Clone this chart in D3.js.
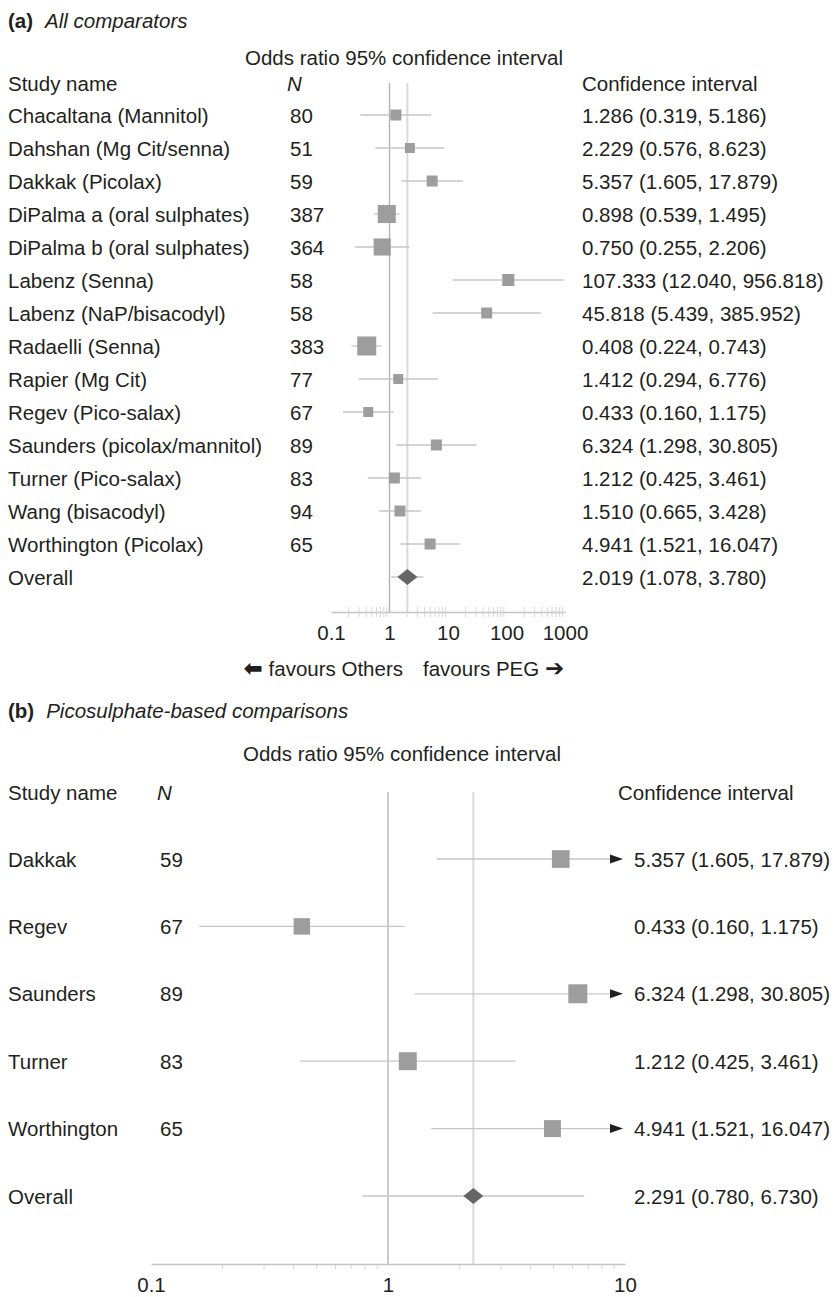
<!DOCTYPE html>
<html>
<head>
<meta charset="utf-8">
<script src="https://cdn.jsdelivr.net/npm/d3@7"></script>
<style>
  body { margin: 0; background: #fff; }
  svg text { font-family: "Liberation Sans", Arial, Helvetica, sans-serif; fill: #231f20; }
</style>
</head>
<body>
<script>
// panel (a) data
const studiesA = ["Chacaltana (Mannitol)", "Dahshan (Mg Cit/senna)", "Dakkak (Picolax)",
  "DiPalma a (oral sulphates)", "DiPalma b (oral sulphates)", "Labenz (Senna)",
  "Labenz (NaP/bisacodyl)", "Radaelli (Senna)", "Rapier (Mg Cit)", "Regev (Pico-salax)",
  "Saunders (picolax/mannitol)", "Turner (Pico-salax)", "Wang (bisacodyl)", "Worthington (Picolax)"];
const nA = [80, 51, 59, 387, 364, 58, 58, 383, 77, 67, 89, 83, 94, 65];
const orA = [1.286, 2.229, 5.357, 0.898, 0.750, 107.333, 45.818, 0.408, 1.412, 0.433, 6.324, 1.212, 1.510, 4.941];
const loA = [0.319, 0.576, 1.605, 0.539, 0.255, 12.040, 5.439, 0.224, 0.294, 0.160, 1.298, 0.425, 0.665, 1.521];
const hiA = [5.186, 8.623, 17.879, 1.495, 2.206, 956.818, 385.952, 0.743, 6.776, 1.175, 30.805, 3.461, 3.428, 16.047];
const weightA = [5.3, 4.4, 5.3, 14.3, 12.8, 6.4, 5.3, 15.9, 4.4, 4.4, 5.3, 5.3, 5.3, 5.3];
const overallA = [2.019, 1.078, 3.780];
const ticksA = [0.1, 1, 10, 100, 1000];

// panel (b) data
const studiesB = ["Dakkak", "Regev", "Saunders", "Turner", "Worthington"];
const nB = [59, 67, 89, 83, 65];
const orB = [5.357, 0.433, 6.324, 1.212, 4.941];
const loB = [1.605, 0.160, 1.298, 0.425, 1.521];
const hiB = [17.879, 1.175, 30.805, 3.461, 16.047];
const weightB = [20.1, 17.4, 23.2, 20.8, 18.5];
const overallB = [2.291, 0.780, 6.730];
const ticksB = [0.1, 1, 10];

const W = 835, H = 1297, FS = 20.5;
const f3 = d3.format(".3f");

const svg = d3.select("body").append("svg")
  .attr("width", W).attr("height", H)
  .style("font-size", FS + "px");

function ciText(or, lo, hi) {
  return f3(or) + " (" + f3(lo) + ", " + f3(hi) + ")";
}

function panel(cfg) {
  const g = svg.append("g");
  const x = d3.scaleLog().domain(cfg.domain).range(cfg.xRange);
  const names = cfg.studies.concat(["Overall"]);
  const y = d3.scalePoint().domain(names).range(cfg.yRange);
  const side = d3.scaleSqrt().domain([0, cfg.wMax]).range([0, cfg.sMax]);
  const rows = cfg.studies.map((s, i) => ({name: s, n: cfg.n[i], or: cfg.or[i], lo: cfg.lo[i], hi: cfg.hi[i], w: cfg.w[i]}));
  const max = cfg.domain[1];

  // titles
  const t = g.append("text").attr("x", 8).attr("y", cfg.titleY).attr("dominant-baseline", "central");
  t.append("tspan").style("font-weight", "bold").text(cfg.tag);
  t.append("tspan").attr("dx", 12).style("font-style", "italic").text(cfg.title);
  g.append("text").attr("x", cfg.orX).attr("y", cfg.orY).attr("dominant-baseline", "central")
    .text("Odds ratio 95% confidence interval");
  g.append("text").attr("x", 8).attr("y", cfg.headY).attr("dominant-baseline", "central").text("Study name");
  g.append("text").attr("x", cfg.nX - 3).attr("y", cfg.headY).attr("dominant-baseline", "central")
    .style("font-style", "italic").text("N");
  g.append("text").attr("x", cfg.ciHeadX).attr("y", cfg.headY).attr("dominant-baseline", "central").text("Confidence interval");

  // reference lines
  g.append("line").attr("x1", x(1)).attr("x2", x(1)).attr("y1", cfg.headY).attr("y2", cfg.axisY)
    .attr("stroke", "#b4b4b4").attr("stroke-width", 1.4);
  g.append("line").attr("x1", x(cfg.overall[0])).attr("x2", x(cfg.overall[0])).attr("y1", cfg.headY).attr("y2", cfg.axisY)
    .attr("stroke", "#dadada").attr("stroke-width", 2);

  // axis
  const axis = d3.axisBottom(x).tickValues(cfg.ticks).tickFormat(d3.format("~g"))
    .tickSize(0).tickSizeOuter(0).tickPadding(cfg.tickPad);
  const ax = g.append("g").attr("transform", "translate(0," + cfg.axisY + ")").call(axis);
  ax.select(".domain").attr("stroke", "#c4c4c4").attr("stroke-width", 1.4);
  ax.selectAll("text").style("font-size", FS + "px").attr("fill", "#231f20")
    .style("font-family", '"Liberation Sans", Arial, sans-serif');
  const minor = x.ticks().filter(v => Math.abs(Math.log10(v) - Math.round(Math.log10(v))) > 1e-6);
  g.append("g").selectAll("line").data(minor).join("line")
    .attr("x1", d => x(d)).attr("x2", d => x(d))
    .attr("y1", cfg.axisY + cfg.minorTop).attr("y2", cfg.axisY + 5)
    .attr("stroke", "#d6d6d6").attr("stroke-width", 1);

  // rows
  const r = g.append("g").selectAll("g").data(rows).join("g");
  r.append("text").attr("x", 8).attr("y", d => y(d.name)).attr("dominant-baseline", "central").text(d => d.name);
  r.append("text").attr("x", cfg.nX).attr("y", d => y(d.name)).attr("dominant-baseline", "central").text(d => d.n);
  r.append("text").attr("x", cfg.ciX).attr("y", d => y(d.name)).attr("dominant-baseline", "central")
    .text(d => ciText(d.or, d.lo, d.hi));
  r.append("line")
    .attr("x1", d => x(d.lo)).attr("x2", d => x(Math.min(d.hi, max)) - (d.hi > max ? 12 : 0))
    .attr("y1", d => y(d.name)).attr("y2", d => y(d.name))
    .attr("stroke", "#c6c6c6").attr("stroke-width", 1.3);
  r.filter(d => d.hi > max).append("path")
    .attr("d", d => {
      const tx = x(max) - 2, ty = y(d.name);
      return "M" + tx + "," + ty + "L" + (tx - 13) + "," + (ty - 4.5) + "L" + (tx - 13) + "," + (ty + 4.5) + "Z";
    })
    .attr("fill", "#231f20");
  r.append("rect")
    .attr("x", d => x(d.or) - side(d.w) / 2).attr("y", d => y(d.name) - side(d.w) / 2)
    .attr("width", d => side(d.w)).attr("height", d => side(d.w))
    .attr("fill", "#9d9d9d");

  // overall
  const oy = y("Overall"), ox = x(cfg.overall[0]);
  g.append("text").attr("x", 8).attr("y", oy).attr("dominant-baseline", "central").text("Overall");
  g.append("text").attr("x", cfg.ciX).attr("y", oy).attr("dominant-baseline", "central")
    .text(ciText(cfg.overall[0], cfg.overall[1], cfg.overall[2]));
  g.append("line").attr("x1", x(cfg.overall[1])).attr("x2", x(cfg.overall[2]))
    .attr("y1", oy).attr("y2", oy).attr("stroke", "#c6c6c6").attr("stroke-width", 1.3);
  g.append("path")
    .attr("d", "M" + (ox - 10) + "," + oy + "L" + ox + "," + (oy - 8) + "L" + (ox + 10) + "," + oy + "L" + ox + "," + (oy + 8) + "Z")
    .attr("fill", "#666");
  return g;
}

panel({
  tag: "(a)", title: "All comparators", titleY: 20, orX: 245, orY: 57, headY: 83,
  studies: studiesA, n: nA, or: orA, lo: loA, hi: hiA, w: weightA, overall: overallA,
  domain: [0.1, 1000], xRange: [331, 565], yRange: [115, 577], ticks: ticksA,
  axisY: 612, tickPad: 13, minorTop: -5, nX: 290, ciX: 582, ciHeadX: 582, wMax: 16, sMax: 19.1
});

// favours legend under panel (a)
const fav = svg.append("g");
const fl = fav.append("text").attr("x", 403).attr("y", 668).attr("text-anchor", "end").attr("dominant-baseline", "central");
fl.append("tspan").style("font-family", "DejaVu Sans").style("font-weight", "bold").style("font-size", "23px").text("\u2B05");
fl.append("tspan").text(" favours Others");
const fr = fav.append("text").attr("x", 423).attr("y", 668).attr("dominant-baseline", "central");
fr.append("tspan").text("favours PEG ");
fr.append("tspan").style("font-family", "DejaVu Sans").style("font-weight", "bold").style("font-size", "23px").text("\u2794");

panel({
  tag: "(b)", title: "Picosulphate-based comparisons", titleY: 710, orX: 243, orY: 753, headY: 792,
  studies: studiesB, n: nB, or: orB, lo: loB, hi: hiB, w: weightB, overall: overallB,
  domain: [0.1, 10], xRange: [151, 625], yRange: [859, 1196], ticks: ticksB,
  axisY: 1264, tickPad: 13, minorTop: 1, nX: 160, ciX: 634, ciHeadX: 618, wMax: 25, sMax: 19.7
});
</script>
</body>
</html>
